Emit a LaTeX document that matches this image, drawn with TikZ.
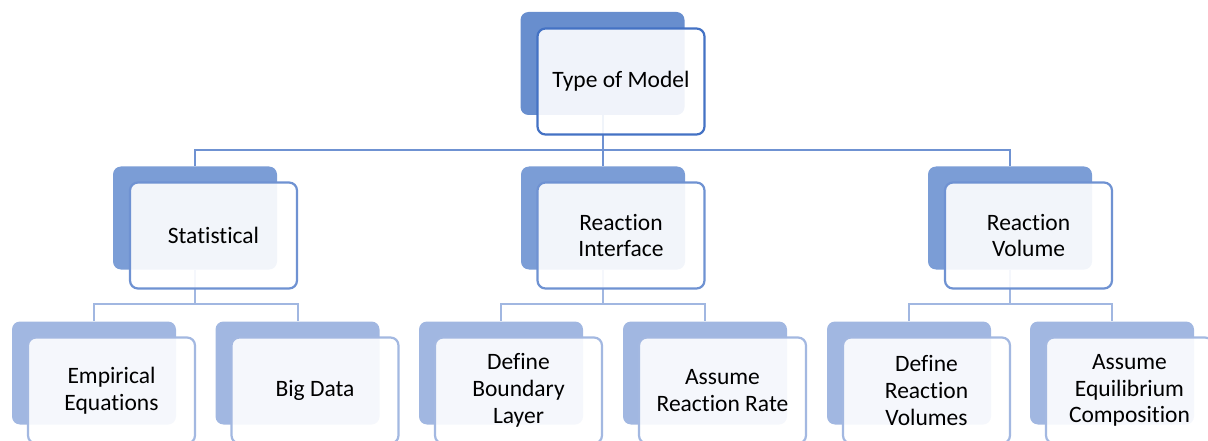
\documentclass[tikz,border=0pt]{standalone}
\usepackage{fontspec}
\setmainfont{Carlito}[Ligatures={NoCommon}]
\definecolor{backA}{RGB}{104,142,206}
\definecolor{lineA}{RGB}{68,114,196}
\definecolor{backB}{RGB}{123,157,214}
\definecolor{lineB}{RGB}{111,146,210}
\definecolor{backC}{RGB}{161,183,225}
\definecolor{lineC}{RGB}{163,184,225}
\begin{document}
\begin{tikzpicture}[x=1pt,y=1pt,
  backbox/.style={rounded corners=8pt, minimum width=164pt, minimum height=103pt, inner sep=0pt, draw=none},
  frontbox/.style={rounded corners=8pt, minimum width=167pt, minimum height=106pt, inner sep=0pt,
    line width=2.2pt, fill=white, fill opacity=0.9, text opacity=1, align=center,
    font=\fontsize{23.5}{26.7}\selectfont, text=black},
  bA/.style={backbox, fill=backA}, fA/.style={frontbox, draw=lineA},
  bB/.style={backbox, fill=backB}, fB/.style={frontbox, draw=lineB},
  bC/.style={backbox, fill=backC}, fC/.style={frontbox, draw=lineC},
  connB/.style={draw=lineB, line width=2pt},
  connC/.style={draw=backC, line width=2pt}]
\useasboundingbox (0,0) rectangle (1208,-441);
\clip (0,0) rectangle (1208,-441);
% back boxes
\node[bA] (b0) at (602.5,-63.5) {};
\node[bB] (b1) at (195,-218) {};
\node[bB] (b2) at (603,-218) {};
\node[bB] (b3) at (1010,-218) {};
\node[bC] (b11) at (94,-373) {};
\node[bC] (b12) at (297.5,-373) {};
\node[bC] (b21) at (501,-373) {};
\node[bC] (b22) at (705,-373) {};
\node[bC] (b31) at (909,-373) {};
\node[bC] (b32) at (1112,-373) {};
% connectors
\coordinate (j0) at (0,-150);
\coordinate (j1) at (0,-304);
\foreach \c in {b1,b2,b3}{\draw[connB] (b0.south) -- (b0.south |- j0) -| (\c.north);}
\draw[connC] (b1.south) -- (b1.south |- j1) -| (b11.north);
\draw[connC] (b1.south) -- (b1.south |- j1) -| (b12.north);
\draw[connC] (b2.south) -- (b2.south |- j1) -| (b21.north);
\draw[connC] (b2.south) -- (b2.south |- j1) -| (b22.north);
\draw[connC] (b3.south) -- (b3.south |- j1) -| (b31.north);
\draw[connC] (b3.south) -- (b3.south |- j1) -| (b32.north);
% front boxes
\node[fA] (f0) at (621,-81.5) {Type of Model};
\node[fB] (f1) at (213.5,-235.5) {Statistical};
\node[fB] (f2) at (621,-235.5) {Reaction\\Interface};
\node[fB] (f3) at (1028.5,-235.5) {Reaction\\Volume};
\node[fC] (f11) at (111.5,-390.5) {Empirical\\Equations};
\node[fC] (f12) at (315,-390.5) {Big Data};
\node[fC] (f21) at (518.5,-390.5) {Define\\Boundary\\Layer};
\node[fC] (f22) at (722.5,-390.5) {Assume\\Reaction Rate};
\node[fC] (f31) at (926.5,-390.5) {Define\\Reaction\\Volumes};
\node[fC] (f32) at (1129.5,-390.5) {Assume\\Equilibrium\\Composition};
\end{tikzpicture}
\end{document}
